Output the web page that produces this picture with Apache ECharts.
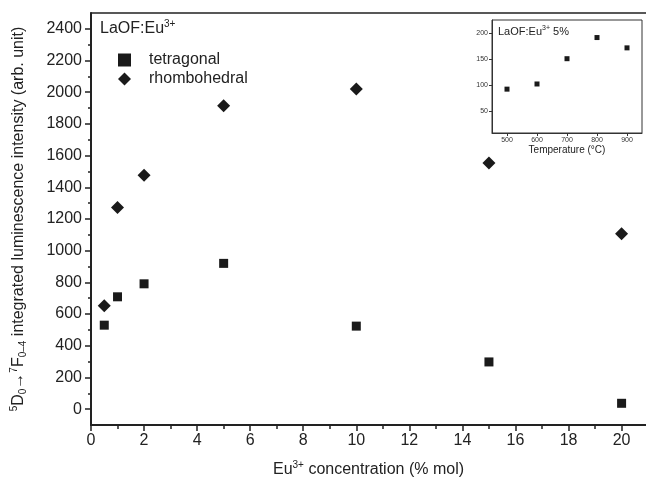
<!DOCTYPE html>
<html><head><meta charset="utf-8">
<script src="https://cdn.jsdelivr.net/npm/echarts@6/dist/echarts.min.js"></script>
<style>html,body{margin:0;padding:0;background:#fff}#c{width:646px;height:486px}</style>
</head><body><div id="c"></div>
<script>
const concentration = [0.5, 1, 2, 5, 10, 15, 20];
const tetragonal = [530, 709, 791, 920, 524, 298, 37];
const rhombohedral = [652, 1272, 1476, 1914, 2020, 1554, 1107];
const temperature = [500, 600, 700, 800, 900];
const insetIntensity = [92, 102, 151, 192, 172];
const xTicks = [0, 2, 4, 6, 8, 10, 12, 14, 16, 18, 20];
const xMinorTicks = [1, 3, 5, 7, 9, 11, 13, 15, 17, 19];
const yTicks = [0, 200, 400, 600, 800, 1000, 1200, 1400, 1600, 1800, 2000, 2200, 2400];
const yMinorTicks = [100, 300, 500, 700, 900, 1100, 1300, 1500, 1700, 1900, 2100, 2300];
const insetYTicks = [50, 100, 150, 200];

const F = 'Liberation Sans, Arial, sans-serif';
const C = '#1a1a1a';
const chart = echarts.init(document.getElementById('c'));
const pair = (xs, ys) => xs.map((x, i) => [x, ys[i]]);
chart.setOption({
  animation: false,
  textStyle: {fontFamily: F},
  grid: [
    {left: 91, top: 13, right: 0, bottom: 61, show: false},
    {left: 492, top: 20, width: 150, height: 113, show: true, borderColor: '#333', borderWidth: 1, backgroundColor: '#fff'}
  ],
  legend: {
    left: 113, top: 47, orient: 'vertical', itemGap: 3, itemWidth: 13, itemHeight: 13,
    data: [{name: 'tetragonal', icon: 'rect', itemStyle: {color: C}}, {name: 'rhombohedral', icon: 'diamond', itemStyle: {color: C}}],
    textStyle: {fontSize: 16, color: '#222', fontFamily: F, padding: [0, 0, 0, 13]}
  },
  xAxis: [
    {gridIndex: 0, type: 'value', position: 'bottom', min: 0, max: 20.92,
     name: '{t|Eu}{sup|3+}{t| concentration (% mol)}', nameLocation: 'middle', nameGap: 35,
     nameTextStyle: {rich: {t: {fontSize: 16, color: '#222', fontFamily: F}, sup: {fontSize: 10, color: '#222', fontFamily: F, padding: [0, 0, 10, 0]}}},
     axisLine: {onZero: false, lineStyle: {color: '#222', width: 2}},
     axisTick: {length: 6, customValues: xTicks, lineStyle: {color: '#222', width: 1.5}},
     axisLabel: {fontSize: 16, color: '#222', margin: 8, customValues: xTicks, formatter: v => String(v)},
     splitLine: {show: false}},
    {gridIndex: 1, type: 'value', position: 'bottom', min: 450, max: 950,
     name: 'Temperature (°C)', nameLocation: 'middle', nameGap: 12,
     nameTextStyle: {fontSize: 10, color: '#222'},
     axisLine: {onZero: false, lineStyle: {color: '#333', width: 1}},
     axisTick: {length: 3, customValues: temperature, lineStyle: {color: '#333'}},
     axisLabel: {fontSize: 7, color: '#333', margin: 4, customValues: temperature},
     splitLine: {show: false}},
    {gridIndex: 0, type: 'value', position: 'bottom', offset: 0, min: 0, max: 20.92,
     axisLine: {show: false, onZero: false},
     axisTick: {length: 4, customValues: xMinorTicks, lineStyle: {color: '#222', width: 1.5}},
     axisLabel: {show: false, customValues: xMinorTicks},
     splitLine: {show: false}},
    {gridIndex: 0, type: 'value', position: 'top', min: 0, max: 20.92,
     axisLine: {show: true, onZero: false, lineStyle: {color: '#222', width: 1.5}},
     axisTick: {show: false}, axisLabel: {show: false}, splitLine: {show: false}}
  ],
  yAxis: [
    {gridIndex: 0, type: 'value', position: 'left', min: -100, max: 2500,
     name: '{sup|5}{t|D}{sub|0}{t|→}{sup|7}{t|F}{sub|0–4}{t| integrated luminescence intensity (arb. unit)}',
     nameLocation: 'middle', nameGap: 62, nameRotate: 90,
     nameTextStyle: {rich: {
       t: {fontSize: 16, color: '#222', fontFamily: F},
       sup: {fontSize: 10, color: '#222', fontFamily: F, padding: [0, 0, 10, 0]},
       sub: {fontSize: 10, color: '#222', fontFamily: F, padding: [8, 0, 0, 0]}}},
     axisLine: {onZero: false, lineStyle: {color: '#222', width: 2}},
     axisTick: {length: 6, customValues: yTicks, lineStyle: {color: '#222', width: 1.5}},
     axisLabel: {fontSize: 16, color: '#222', margin: 9, customValues: yTicks, formatter: v => String(v)},
     splitLine: {show: false}},
    {gridIndex: 1, type: 'value', position: 'left', min: 7, max: 226,
     axisLine: {onZero: false, lineStyle: {color: '#333', width: 1}},
     axisTick: {length: 3, customValues: insetYTicks, lineStyle: {color: '#333'}},
     axisLabel: {fontSize: 7, color: '#333', margin: 4, customValues: insetYTicks},
     splitLine: {show: false}},
    {gridIndex: 0, type: 'value', position: 'left', offset: 0, min: -100, max: 2500,
     axisLine: {show: false, onZero: false},
     axisTick: {length: 3, customValues: yMinorTicks, lineStyle: {color: '#222', width: 1.5}},
     axisLabel: {show: false, customValues: yMinorTicks},
     splitLine: {show: false}}
  ],
  graphic: [
    {type: 'text', left: 100, top: 19, style: {
      text: '{t|LaOF:Eu}{sup|3+}', rich: {t: {fontSize: 16, fill: '#222', fontFamily: F}, sup: {fontSize: 10, fill: '#222', fontFamily: F, padding: [0, 0, 10, 0]}}}},
    {type: 'text', left: 498, top: 25, z: 10, style: {
      text: '{t|LaOF:Eu}{sup|3+}{t| 5%}', rich: {t: {fontSize: 11, fill: '#222', fontFamily: F}, sup: {fontSize: 7, fill: '#222', fontFamily: F, padding: [0, 0, 6, 0]}}}}
  ],
  series: [
    {name: 'tetragonal', type: 'scatter', xAxisIndex: 0, yAxisIndex: 0, symbol: 'rect', symbolSize: 9,
     itemStyle: {color: C, opacity: 1}, data: pair(concentration, tetragonal)},
    {name: 'rhombohedral', type: 'scatter', xAxisIndex: 0, yAxisIndex: 0, symbol: 'diamond', symbolSize: 13,
     itemStyle: {color: C, opacity: 1}, data: pair(concentration, rhombohedral)},
    {name: 'inset', type: 'scatter', xAxisIndex: 1, yAxisIndex: 1, symbol: 'rect', symbolSize: 5,
     itemStyle: {color: C, opacity: 1}, data: pair(temperature, insetIntensity)}
  ]
});
</script></body></html>
